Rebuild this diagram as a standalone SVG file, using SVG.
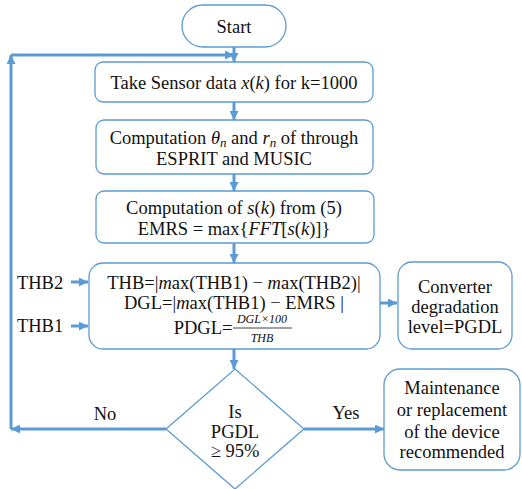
<svg xmlns="http://www.w3.org/2000/svg" width="522" height="489" viewBox="0 0 522 489" font-family="Liberation Serif, DejaVu Serif, serif">
<defs>
<marker id="ah" viewBox="0 0 10 10" refX="10" refY="5" markerWidth="3" markerHeight="3" orient="auto" markerUnits="strokeWidth">
<path d="M0,0 L10,5 L0,10 z" fill="#5b9bd5"/>
</marker>
<style>
.box{fill:#fff;stroke:#5b9bd5;stroke-width:1.3}
text{font-size:18.5px;fill:#111;text-anchor:middle}
.i{font-style:italic}
.c{fill:none;stroke:#5b9bd5;stroke-width:3}
.f{font-size:12px}
</style>
</defs>
<rect width="522" height="489" fill="#fff"/>
<g id="connectors">
<polyline class="c" points="11,56 11,429"/>
<line class="c" x1="11" y1="63" x2="11" y2="55" marker-end="url(#ah)"/>
<line class="c" x1="11" y1="55" x2="234" y2="55" marker-end="url(#ah)"/>
<line class="c" x1="234" y1="47" x2="234" y2="62" marker-end="url(#ah)"/>
<line class="c" x1="234" y1="102" x2="234" y2="120" marker-end="url(#ah)"/>
<line class="c" x1="234" y1="174" x2="234" y2="191" marker-end="url(#ah)"/>
<line class="c" x1="234" y1="243" x2="234" y2="263" marker-end="url(#ah)"/>
<line class="c" x1="71" y1="282" x2="88" y2="282" marker-end="url(#ah)"/>
<line class="c" x1="71" y1="326" x2="88" y2="326" marker-end="url(#ah)"/>
<line class="c" x1="380" y1="303" x2="397" y2="303" marker-end="url(#ah)"/>
<line class="c" x1="234" y1="349" x2="234" y2="369" marker-end="url(#ah)"/>
<line class="c" x1="166" y1="429" x2="11" y2="429" marker-end="url(#ah)"/>
<line class="c" x1="304" y1="429" x2="384" y2="429" marker-end="url(#ah)"/>
<text x="105" y="420">No</text>
<text x="346" y="419">Yes</text>
<text x="40" y="289">THB2</text>
<text x="40" y="332">THB1</text>
</g>
<g id="start">
<rect class="box" x="182" y="5" width="104" height="42" rx="21"/>
<text x="234" y="33">Start</text>
</g>
<g id="sensor">
<rect class="box" x="95" y="62" width="278" height="40" rx="8"/>
<text x="234" y="89">Take Sensor data <tspan class="i">x</tspan>(<tspan class="i">k</tspan>) for k=1000</text>
</g>
<g id="esprit">
<rect class="box" x="96" y="120" width="277" height="54" rx="8"/>
<text x="234" y="144">Computation <tspan class="i">θ</tspan><tspan class="i" font-size="13" dy="3">n</tspan><tspan dy="-3"> and </tspan><tspan class="i">r</tspan><tspan class="i" font-size="13" dy="3">n</tspan><tspan dy="-3"> of through</tspan></text>
<text x="234" y="165">ESPRIT and MUSIC</text>
</g>
<g id="emrs">
<rect class="box" x="96" y="191" width="278" height="52" rx="8"/>
<text x="234" y="214">Computation of <tspan class="i">s</tspan>(<tspan class="i">k</tspan>) from (5)</text>
<text x="234" y="235">EMRS = max{<tspan class="i">FFT</tspan>[<tspan class="i">s</tspan>(<tspan class="i">k</tspan>)]}</text>
</g>
<g id="thb">
<rect class="box" x="89" y="263" width="291" height="86" rx="14"/>
<text x="234" y="289">THB=|<tspan class="i">m</tspan>ax(THB1) − <tspan class="i">m</tspan>ax(THB2)|</text>
<text x="234" y="309">DGL=|<tspan class="i">m</tspan>ax(THB1) − EMRS |</text>
<text x="203" y="334">PDGL=</text>
<text class="i f" x="262" y="323">DGL×100</text>
<line x1="233" y1="328" x2="292" y2="328" stroke="#111" stroke-width="0.8"/>
<text class="i f" x="262" y="342">THB</text>
</g>
<g id="converter">
<rect class="box" x="398" y="262" width="114" height="87" rx="14"/>
<text x="455" y="293">Converter</text>
<text x="455" y="313">degradation</text>
<text x="455" y="333">level=PGDL</text>
</g>
<g id="decision">
<polygon class="box" points="235,369 304,429 235,489 166,429"/>
<text x="235" y="418">Is</text>
<text x="235" y="438">PGDL</text>
<text x="235" y="457">≥ 95%</text>
</g>
<g id="maintenance">
<rect class="box" x="384" y="369" width="136" height="101" rx="16"/>
<text x="452" y="394">Maintenance</text>
<text x="452" y="416">or replacement</text>
<text x="452" y="438">of the device</text>
<text x="452" y="458">recommended</text>
</g>
</svg>
